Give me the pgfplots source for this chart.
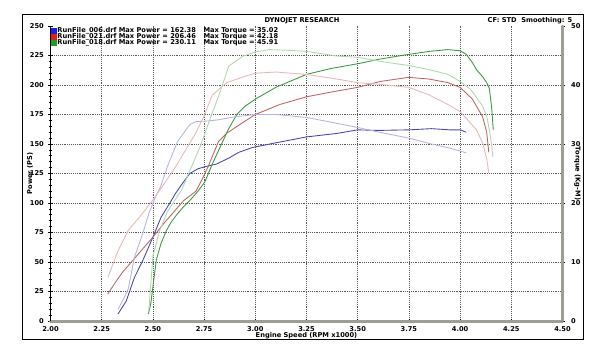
\documentclass[border=0pt]{standalone}
\usepackage{pgfplots}
\pgfplotsset{compat=1.18}
\usepackage{fontspec}
\setmainfont{DejaVu Sans}
\definecolor{pwblue}{RGB}{70,70,165}
\definecolor{tqblue}{RGB}{180,180,228}
\definecolor{pwred}{RGB}{190,100,100}
\definecolor{tqred}{RGB}{236,182,182}
\definecolor{pwgreen}{RGB}{60,150,60}
\definecolor{tqgreen}{RGB}{172,216,172}
\definecolor{axisgray}{RGB}{158,158,148}
\definecolor{sqblue}{RGB}{30,30,230}
\definecolor{sqred}{RGB}{220,30,30}
\definecolor{sqgreen}{RGB}{30,160,30}
\newcommand{\sm}{\fontsize{5}{6}\selectfont\bfseries}
\begin{document}
\begin{tikzpicture}[x=1pt,y=1pt]
\useasboundingbox (-37.875,-24.75) rectangle (418.125,240.75);
\begin{axis}[
  at={(0,0)}, anchor=south west,
  scale only axis, width=384pt, height=221.25pt,
  xmin=2, xmax=4.5, ymin=0, ymax=250,
  axis x line=bottom, axis y line=left,
  x axis line style={-, draw=axisgray, line width=2.25pt, line cap=round},
  y axis line style={-, draw=black, line width=0.6pt},
  xtick={2,2.25,2.5,2.75,3,3.25,3.5,3.75,4,4.25,4.5},
  ytick={0,25,50,75,100,125,150,175,200,225},
  extra y ticks={250}, extra y tick style={grid=none},
  minor x tick num=4, minor y tick num=4,
  tick align=center,
  major tick length=3pt, minor tick length=2pt,
  tick style={black, line width=0.5pt},
  grid=major,
  grid style={densely dotted, black!65, line width=0.5pt},
  tick label style={font=\sm},
  xticklabel style={yshift=1pt, /pgf/number format/.cd, fixed, fixed zerofill, precision=2},
  /pgf/number format/assume math mode=true,
  xlabel={Engine Speed (RPM x1000)},
  ylabel={Power (PS)},
  every axis x label/.style={at={(axis description cs:0.5,0)}, yshift=-10.8pt, anchor=center, font=\sm},
  every axis y label/.style={at={(axis description cs:0,0.5)}, xshift=-15.4pt, anchor=center, rotate=90, font=\sm},
  legend style={at={(0,1)}, anchor=north west, draw=none, fill=none, font=\sm, inner sep=0pt, row sep=-2pt, nodes={inner sep=0.6pt}},
  legend cell align=left,
]
\addplot[pwblue, line width=0.65pt, legend image code/.code={\fill[sqblue] (0pt,-1.9pt) rectangle (3.8pt,1.9pt);}] coordinates {
(2.33,6) (2.37,17) (2.41,37) (2.45,51) (2.50,71) (2.54,88) (2.59,102) (2.61,108) (2.65,118) (2.68,125) (2.72,129) (2.76,131) (2.81,133) (2.87,138) (2.92,143) (2.985,147) (3.10,151) (3.25,156) (3.40,159) (3.50,162) (3.60,161.5) (3.75,162) (3.86,163) (3.95,162) (4.00,162) (4.03,160)
};
\addlegendentry{\makebox[109.5pt][l]{RunFile\_006.drf Max Power = 162.38}Max Torque =\ 35.02}
\addplot[pwred, line width=0.65pt, legend image code/.code={\fill[sqred] (0pt,-1.9pt) rectangle (3.8pt,1.9pt);}] coordinates {
(2.28,23) (2.31,31) (2.35,41) (2.40,51) (2.45,61) (2.50,71) (2.55,82) (2.58,88) (2.62,96) (2.65,102) (2.71,110) (2.74,120) (2.77,131) (2.82,152) (2.86,159) (2.92,166) (3.00,175) (3.12,183.5) (3.25,190) (3.37,194) (3.50,198) (3.61,203) (3.75,206.5) (3.85,205) (3.94,202) (4.00,198) (4.06,188) (4.11,173) (4.13,160) (4.14,143)
};
\addlegendentry{\makebox[109.5pt][l]{RunFile\_021.drf Max Power = 206.46}Max Torque =\ 42.18}
\addplot[pwgreen, line width=0.65pt, legend image code/.code={\fill[sqgreen] (0pt,-1.9pt) rectangle (3.8pt,1.9pt);}] coordinates {
(2.478,6) (2.49,15) (2.50,29) (2.517,52) (2.54,66) (2.567,77) (2.59,84) (2.616,90) (2.65,97) (2.68,102) (2.72,110) (2.754,118) (2.79,133) (2.83,148) (2.87,163) (2.91,175) (2.95,182) (3.00,188) (3.10,198) (3.25,209) (3.37,214) (3.50,218) (3.61,222) (3.75,226) (3.85,228.5) (3.94,230) (4.00,229) (4.03,226) (4.06,219) (4.08,213) (4.11,207) (4.13,202) (4.143,197) (4.154,181) (4.162,162)
};
\addlegendentry{\makebox[109.5pt][l]{RunFile\_018.drf Max Power = 230.11}Max Torque =\ 45.91}
\end{axis}
\begin{axis}[
  at={(0,0)}, anchor=south west,
  scale only axis, width=384pt, height=221.25pt,
  xmin=2, xmax=4.5, ymin=0, ymax=50,
  axis x line=none, axis y line=right,
  y axis line style={-, draw=axisgray, line width=2.25pt, line cap=round},
  ytick={0,10,20,30,40,50},
  minor y tick num=4,
  tick align=center,
  major tick length=3pt, minor tick length=2pt,
  tick style={black, line width=0.5pt},
  tick label style={font=\sm},
  yticklabel style={xshift=1.5pt},
  /pgf/number format/assume math mode=true,
  ylabel={Torque (Kg-M)},
  every axis y label/.style={at={(axis description cs:1,0.5)}, xshift=11.25pt, anchor=center, rotate=-90, font=\sm},
]
\addplot[tqblue, line width=0.65pt] coordinates {
(2.33,2) (2.36,4) (2.38,5.5) (2.41,10.8) (2.45,14.8) (2.48,18.2) (2.51,20.8) (2.54,23) (2.57,26.1) (2.62,30.4) (2.68,33.3) (2.71,33.8) (2.77,33.9) (2.82,34.1) (2.9,34.6) (3.0,35.0) (3.10,35.0) (3.25,34.5) (3.40,33.5) (3.5,32.8) (3.62,31.9) (3.75,31.0) (3.86,30.0) (3.95,29.3) (4.03,28.5)
};
\addplot[tqred, line width=0.65pt] coordinates {
(2.28,7.4) (2.33,11.9) (2.38,15.4) (2.43,17.4) (2.50,20.5) (2.55,23) (2.61,26.1) (2.66,29) (2.71,31.9) (2.75,34.8) (2.79,38.3) (2.86,40.4) (2.96,41.6) (3.00,42.0) (3.10,42.2) (3.25,41.8) (3.40,41.0) (3.50,40.4) (3.61,40.1) (3.75,39.6) (3.85,38.3) (3.94,36.7) (4.00,35.5) (4.08,32.4) (4.11,30.2) (4.13,27.5) (4.14,25.1)
};
\addplot[tqgreen, line width=0.65pt] coordinates {
(2.48,1.7) (2.50,11) (2.53,15) (2.57,18.5) (2.64,22.2) (2.73,29.5) (2.79,35.3) (2.82,38) (2.87,43.2) (2.94,44.9) (3.0,45.6) (3.07,46.0) (3.15,45.9) (3.25,45.7) (3.4,44.9) (3.5,44.7) (3.61,44.0) (3.75,43.3) (3.85,42.6) (3.94,41.8) (4.0,40.6) (4.05,39.3) (4.08,37.9) (4.11,36.4) (4.13,34.7) (4.145,32) (4.155,29.5) (4.16,27.8)
};
\end{axis}
\draw[line width=0.75pt] (-21,-13.5) rectangle (399.375,229.5);
\node[font=\sm, anchor=center] at (188.6,225.2) {DYNOJET RESEARCH};
\node[font=\sm, anchor=east] at (394.9,225.2) {CF: STD\ \ Smoothing: 5};
\end{tikzpicture}
\end{document}
